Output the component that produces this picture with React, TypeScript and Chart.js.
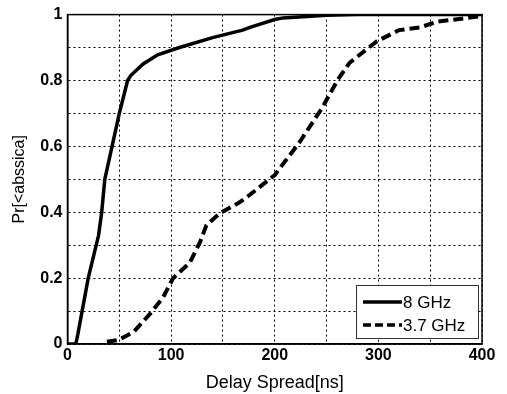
import React, { useEffect, useRef } from "react";
import { Chart, registerables } from "chart.js";

Chart.register(...registerables);

const ghz8X = [0, 8, 10, 20, 30, 33, 36, 43, 50, 58, 61, 73, 87, 108, 140, 169, 176, 200, 208, 250, 280, 400];
const ghz8Y = [0, 0, 0.03, 0.2, 0.33, 0.4, 0.5, 0.6, 0.7, 0.8, 0.815, 0.85, 0.878, 0.9, 0.93, 0.953, 0.961, 0.985, 0.99, 0.998, 1.0, 1.0];
const ghz37X = [38, 49, 64, 80, 92, 102, 118, 128, 134, 147, 166, 176, 200, 224, 245, 261, 272, 298, 320, 340, 356, 398];
const ghz37Y = [0.007, 0.012, 0.037, 0.093, 0.14, 0.2, 0.247, 0.31, 0.36, 0.397, 0.43, 0.453, 0.513, 0.613, 0.713, 0.803, 0.853, 0.918, 0.953, 0.961, 0.978, 0.995];
const seriesNames = ["8 GHz", "3.7 GHz"];
const xTitle = "Delay Spread[ns]";
const yTitle = "Pr[<abssica]";

const FONT = "'Liberation Sans', Arial, sans-serif";

export default function App() {
  const ref = useRef<HTMLCanvasElement>(null);
  useEffect(() => {
    document.body.style.margin = "0";
    const ctx = ref.current!.getContext("2d")!;
    const frame = {
      id: "frame",
      afterDraw(chart: any) {
        const { ctx, chartArea: a } = chart;
        ctx.save();
        ctx.strokeStyle = "#000";
        ctx.lineWidth = 1.5;
        ctx.setLineDash([]);
        ctx.strokeRect(a.left, a.top, a.right - a.left, a.bottom - a.top);
        // legend
        const lx = 356, ly = 285, lw = 122, lh = 53;
        ctx.fillStyle = "#fff";
        ctx.fillRect(lx, ly, lw, lh);
        ctx.lineWidth = 1;
        ctx.strokeStyle = "#333";
        ctx.strokeRect(lx + 0.5, ly + 0.5, lw, lh);
        ctx.strokeStyle = "#000";
        ctx.lineWidth = 3.5;
        ctx.beginPath();
        ctx.moveTo(lx + 7, ly + 17);
        ctx.lineTo(lx + 46, ly + 17);
        ctx.stroke();
        ctx.setLineDash([8, 4]);
        ctx.beginPath();
        ctx.moveTo(lx + 7, ly + 40);
        ctx.lineTo(lx + 46, ly + 40);
        ctx.stroke();
        ctx.setLineDash([]);
        ctx.fillStyle = "#000";
        ctx.font = `17px ${FONT}`;
        ctx.textBaseline = "middle";
        ctx.textAlign = "left";
        ctx.fillText(seriesNames[0], lx + 47, ly + 18);
        ctx.fillText(seriesNames[1], lx + 47, ly + 41);
        ctx.restore();
      },
    };
    const chart = new Chart(ctx, {
      type: "scatter",
      data: {
        datasets: [
          {
            label: seriesNames[0],
            data: ghz8X.map((x, i) => ({ x, y: ghz8Y[i] })),
            showLine: true,
            borderColor: "#000",
            borderWidth: 3.5,
            pointRadius: 0,
            tension: 0,
          },
          {
            label: seriesNames[1],
            data: ghz37X.map((x, i) => ({ x, y: ghz37Y[i] })),
            showLine: true,
            borderColor: "#000",
            borderWidth: 4,
            borderDash: [10, 5],
            pointRadius: 0,
            tension: 0,
          },
        ],
      },
      options: {
        animation: false,
        responsive: false,
        layout: { padding: { top: 11, right: 25, left: 0, bottom: 0 } },
        plugins: { legend: { display: false }, tooltip: { enabled: false } },
        scales: {
          x: {
            type: "linear",
            min: 0,
            max: 400,
            afterFit: (s: any) => { s.height = 50; },
            ticks: {
              stepSize: 50,
              color: "#000",
              font: { family: FONT, size: 16, weight: "bold" },
              padding: 2,
              maxRotation: 0,
              autoSkip: false,
              callback: (v: any) => (Math.round(v) % 100 === 0 ? String(v) : ""),
            },
            grid: { color: "#000", lineWidth: 1, drawTicks: false },
            border: { display: true, color: "#000", width: 1.5, dash: [2, 3] },
            title: {
              display: true,
              text: xTitle,
              color: "#000",
              font: { family: FONT, size: 18 },
              padding: { top: 0, bottom: 0 },
            },
          },
          y: {
            type: "linear",
            min: 0,
            max: 1,
            afterFit: (s: any) => { s.width = 67.5; },
            ticks: {
              stepSize: 0.1,
              color: "#000",
              font: { family: FONT, size: 16, weight: "bold" },
              padding: 5,
              autoSkip: false,
              callback: (v: any) => {
                const k = Math.round(v * 10);
                return k % 2 === 0 ? String(k / 10) : "";
              },
            },
            grid: { color: "#000", lineWidth: 1, drawTicks: false },
            border: { display: true, color: "#000", width: 1.5, dash: [2, 3] },
            title: {
              display: true,
              text: yTitle,
              color: "#000",
              font: { family: FONT, size: 16 },
              padding: { top: 10, bottom: 0 },
            },
          },
        },
      },
      plugins: [frame],
    } as any);
    return () => chart.destroy();
  }, []);
  return <canvas ref={ref} width={507} height={394} style={{ display: "block" }} />;
}
